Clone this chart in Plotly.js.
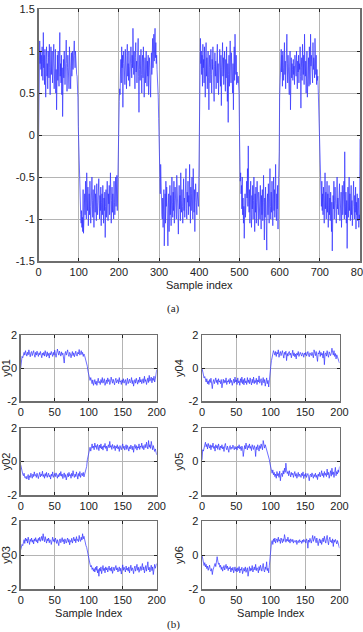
<!DOCTYPE html>
<html>
<head>
<meta charset="utf-8">
<script src="https://cdn.plot.ly/plotly-3.0.1.min.js"></script>
<style>html,body{margin:0;padding:0;background:#fff;}#chart{width:363px;height:632px;}</style>
</head>
<body>
<div id="chart"></div>
<script>
// ---- Panel (a): 801 samples, index 0..800 ----
var signalA = [
-0.10,0.55,0.90,1.12,0.85,1.00,0.78,0.95,0.70,1.05,0.88,0.65,1.22,0.80,0.95,0.60,1.02,0.75,0.45,0.90,
1.05,0.70,0.85,0.55,1.00,0.92,0.68,1.08,0.80,0.48,0.95,1.05,0.72,0.88,1.00,0.62,0.98,0.80,1.08,0.55,
0.85,0.70,1.02,0.50,0.78,0.30,0.85,0.95,0.65,1.00,0.75,0.58,0.90,1.22,0.70,0.85,0.62,0.95,0.48,0.80,
0.22,0.75,0.90,0.68,1.00,0.82,0.60,0.95,0.78,1.13,0.85,0.52,0.80,0.95,0.65,0.88,0.55,1.05,0.72,0.90,
0.55,0.82,0.98,0.70,0.88,1.00,0.78,0.92,0.85,1.12,0.95,0.80,1.00,0.82,0.75,0.72,0.70,0.60,0.45,0.10,
-0.10,-0.45,-0.60,-0.55,-0.68,-0.95,-1.05,-0.90,-1.10,-0.98,-1.15,-0.65,-1.17,-0.85,-1.05,-0.70,-0.95,-0.55,-0.80,-1.00,
-0.45,-0.75,-0.90,-0.62,-1.08,-0.80,-0.70,-0.95,-0.55,-0.85,-1.05,-0.72,-0.88,-0.50,-0.78,-0.98,-0.65,-0.85,-1.10,-0.75,
-0.60,-0.92,-0.70,-0.85,-1.02,-0.58,-0.80,-0.95,-0.68,-0.88,-0.52,-0.78,-1.00,-0.72,-0.90,-0.62,-1.08,-0.80,-0.70,-0.95,
-0.60,-0.85,-1.05,-0.75,-0.90,-0.68,-1.22,-0.85,-0.65,-0.98,-0.75,-0.55,-0.88,-1.02,-0.70,-0.82,-0.60,-0.95,-0.72,-0.45,
-0.85,-1.05,-0.78,-0.62,-0.92,-0.70,-0.88,-1.00,-0.55,-0.80,-0.95,-0.68,-0.50,-0.85,-0.72,-0.48,-0.90,-0.52,-0.40,-0.20,
0.10,0.40,0.55,0.48,0.75,0.90,0.62,1.05,0.80,0.95,0.33,0.85,1.00,0.72,0.90,0.60,1.02,0.78,0.88,0.55,
0.95,1.08,0.70,0.85,0.65,1.00,0.82,0.58,0.92,0.75,1.05,0.85,0.68,0.95,0.80,1.27,0.90,0.72,1.00,0.85,
0.55,0.92,1.10,0.75,0.88,0.62,0.98,0.80,1.15,0.70,0.27,0.78,0.95,0.65,0.85,1.02,0.72,0.50,0.88,0.95,
0.68,1.05,0.80,0.45,0.78,0.92,0.62,0.85,1.00,0.75,0.58,0.88,0.70,0.95,0.48,0.80,0.92,0.65,0.85,0.45,
0.78,0.98,0.72,0.90,1.15,0.80,0.95,1.20,0.88,1.05,1.27,0.92,1.10,0.85,0.95,0.78,0.70,0.60,0.45,0.20,
0.00,-0.32,-0.55,-0.70,-0.35,-0.80,-0.60,-0.95,-1.00,-0.75,-1.10,-0.85,-0.65,-1.32,-0.90,-0.70,-1.05,-0.55,-0.85,-0.62,
-1.00,-0.78,-1.32,-0.88,-0.70,-1.15,-0.82,-0.60,-0.95,-0.72,-1.08,-0.85,-0.50,-0.80,-0.98,-0.68,-0.90,-0.55,-1.05,-0.78,
-0.62,-0.92,-0.75,-1.00,-0.48,-0.82,-0.70,-0.95,-1.18,-0.80,-0.60,-0.88,-0.72,-1.02,-0.45,-0.78,-0.92,-0.65,-0.85,-1.05,
-0.70,-0.52,-0.90,-0.75,-0.98,-0.60,-0.82,-0.40,-0.88,-1.00,-0.68,-0.80,-0.55,-0.95,-0.72,-0.85,-0.35,-0.78,-1.05,-0.62,
-0.90,-0.70,-0.50,-0.85,-1.00,-0.40,-0.75,-0.92,-0.65,-1.15,-0.80,-0.58,-0.88,-0.72,-0.95,-0.68,-0.82,-0.75,-0.85,-0.50,
0.15,0.70,0.65,1.15,0.85,1.00,0.72,0.95,0.58,1.08,0.80,0.90,0.62,1.05,0.75,0.45,0.88,1.10,0.70,0.92,
0.55,0.85,1.00,0.68,0.30,0.80,0.95,0.62,0.88,1.02,0.72,0.50,0.90,0.78,1.05,0.65,0.85,0.40,0.82,0.98,
0.70,0.88,0.55,0.95,0.75,1.08,0.62,0.85,0.48,0.90,0.72,1.02,0.80,0.58,0.95,0.35,0.78,0.88,1.10,0.70,
0.92,0.60,0.85,1.00,0.75,0.52,0.90,0.68,1.05,0.80,0.40,0.85,0.15,0.72,0.95,0.58,0.88,1.12,0.75,0.62,
0.98,0.70,0.90,0.50,0.85,0.30,0.78,1.05,0.65,1.20,0.82,0.72,0.95,0.60,0.75,0.68,0.62,0.70,0.55,0.50,
0.05,-0.30,-0.55,-0.45,-0.70,-0.60,-0.88,-0.50,-0.95,-0.75,-1.05,-0.85,-1.23,-0.90,-0.70,-0.98,-0.60,-0.82,-0.55,-0.75,
-0.40,-0.85,-0.13,-0.70,-0.92,-0.65,-1.05,-0.80,-0.55,-0.95,-1.10,-0.72,-0.88,-0.60,-1.00,-0.78,-0.50,-0.85,-1.15,-0.70,
-0.92,-0.62,-1.05,-0.80,-0.55,-0.98,-0.75,-1.08,-0.68,-0.90,-0.82,-1.00,-0.60,-0.88,-1.12,-0.72,-0.95,-0.65,-1.02,-0.80,
-0.48,-0.90,-1.25,-0.75,-0.98,-0.62,-0.85,-1.10,-1.37,-0.80,-0.70,-0.95,-0.58,-0.88,-1.05,-0.72,-0.40,-0.85,-1.00,-0.68,
-0.92,-0.55,-0.80,-1.08,-0.75,-0.50,-0.90,-0.65,-0.98,-0.78,-0.35,-0.85,-1.02,-0.70,-0.88,-0.60,-1.12,-0.62,-0.45,-0.20,
0.45,0.68,0.60,0.85,1.02,0.75,0.95,0.58,1.00,0.80,0.65,0.92,1.10,0.72,0.88,0.55,1.05,0.78,1.20,0.85,
0.62,0.95,0.70,0.88,0.48,0.82,1.00,0.30,0.75,0.92,0.68,0.85,0.78,0.65,0.90,0.72,0.82,0.60,0.95,0.78,
0.85,0.70,1.00,0.80,0.55,0.88,0.75,0.95,0.62,0.85,0.78,1.05,0.70,0.32,0.80,0.92,0.65,1.08,0.85,0.72,
0.95,0.60,1.20,0.82,0.70,0.88,0.50,0.78,1.00,0.45,0.85,0.68,0.92,0.58,1.05,0.75,0.60,1.20,0.82,0.95,
0.70,0.88,0.62,1.10,0.78,0.92,0.85,0.68,1.15,0.80,0.72,0.95,0.60,0.78,0.65,0.70,0.55,0.40,0.30,0.05,
-0.25,-0.40,-0.28,-0.60,-0.85,-0.55,-0.90,-0.70,-0.95,-0.62,-0.80,-1.05,-0.75,-0.45,-0.88,-0.68,-1.00,-0.78,-0.55,-0.92,
-0.70,-1.10,-0.85,-0.60,-0.95,-0.75,-1.02,-0.68,-0.85,-1.15,-0.80,-1.38,-0.95,-0.72,-0.88,-0.55,-1.00,-0.78,-0.62,-0.92,
-0.70,-1.05,-0.82,-0.50,-0.88,-0.75,-0.95,-0.65,-0.85,-0.58,-1.02,-0.78,-0.90,-0.68,-1.10,-0.82,-0.60,-0.95,-0.72,-0.88,
-0.55,-1.00,-0.20,-0.80,-0.95,-0.68,-1.05,-0.78,-1.35,-0.88,-0.62,-0.98,-0.75,-0.50,-0.90,-0.70,-1.02,-0.85,-0.60,-0.95,
-0.78,-1.08,-0.68,-0.90,-0.55,-0.85,-1.00,-0.72,-0.92,-0.62,-1.12,-0.80,-0.95,-0.70,-1.02,-0.88,-0.75,-1.10,-0.95,-1.00,
-0.05
];
var xTicksA = [0,100,200,300,400,500,600,700,800];
var xTextA = ["0","100","200","300","400","500","600","700","800"];
var yTicksA = [-1.5,-1,-0.5,0,0.5,1,1.5];
var yTextA = ["-1.5","-1","-0.5","0","0.5","1","1.5"];

// ---- Panel (b): six signals, 201 samples, index 0..200 ----
var y01 = [
0.00,0.55,0.70,0.62,0.85,0.95,0.78,1.05,0.88,0.72,0.95,0.80,1.10,0.85,0.68,0.92,1.00,0.75,0.88,1.05,
0.82,0.65,0.95,0.78,1.02,0.88,0.70,0.92,0.80,1.00,0.85,0.62,0.90,0.78,0.95,0.72,1.05,0.82,0.68,0.98,
0.75,0.88,0.60,0.92,0.80,1.00,0.85,0.70,0.95,0.78,1.08,0.82,0.65,0.90,1.15,0.95,0.78,1.02,0.85,0.72,
0.98,0.80,0.90,0.68,0.30,0.85,1.00,0.78,0.92,1.10,0.82,0.70,0.95,0.88,0.62,0.85,1.00,0.75,0.92,0.68,
0.88,1.02,0.80,0.72,0.95,0.85,1.12,0.78,0.90,1.05,0.82,0.95,0.70,0.85,0.75,0.60,0.55,0.35,0.10,-0.20,
-0.45,-0.60,-0.75,-0.58,-0.85,-0.95,-0.72,-1.05,-0.88,-0.70,-0.98,-0.80,-1.05,-0.75,-0.62,-0.90,-0.82,-1.00,-0.70,-0.88,
-0.58,-0.92,-0.78,-0.65,-1.05,-0.85,-0.72,-0.95,-0.60,-0.82,-0.70,-1.00,-0.88,-0.55,-0.78,-0.92,-0.68,-0.85,-1.02,-0.75,
-0.62,-0.90,-0.80,-0.70,-0.95,-0.58,-0.85,-0.78,-1.00,-0.72,-0.88,-0.65,-0.92,-0.80,-0.70,-1.05,-0.85,-0.62,-0.95,-0.78,
-0.68,-0.90,-0.82,-0.58,-0.95,-0.75,-1.10,-0.85,-0.70,-0.92,-0.62,-0.80,-0.98,-0.72,-0.88,-0.55,-0.85,-0.70,-0.95,-0.78,
-0.65,-0.92,-0.50,-0.82,-0.70,-1.00,-0.75,-0.60,-0.88,-0.45,-0.80,-0.68,-0.55,-0.90,-0.62,-0.75,-0.50,-0.85,-0.70,-0.40,
-0.10];
var y02 = [
-0.20,-0.45,-0.60,-0.75,-0.85,-0.70,-0.95,-1.00,-0.88,-1.05,-0.92,-0.78,-1.10,-0.85,-0.95,-0.70,-0.88,-1.00,-0.75,-0.90,
-0.62,-0.85,-0.78,-0.95,-0.70,-0.88,-1.02,-0.80,-0.65,-0.92,-0.75,-0.85,-0.58,-0.90,-0.78,-1.00,-0.72,-0.88,-0.65,-0.95,
-0.80,-0.70,-0.92,-0.82,-1.05,-0.75,-0.88,-0.62,-0.95,-0.80,-0.72,-0.90,-0.68,-0.85,-1.00,-0.78,-0.92,-0.70,-0.85,-0.60,
-0.88,-0.75,-1.02,-0.82,-0.68,-0.95,-0.78,-1.10,-0.85,-0.72,-0.92,-0.65,-0.85,-0.78,-1.00,-0.70,-0.88,-0.55,-0.82,-0.95,
-0.75,-0.90,-0.62,-0.85,-1.05,-0.72,-0.88,-0.60,-0.95,-0.80,-0.70,-0.85,-0.65,-0.92,-0.78,-0.60,-0.50,-0.30,0.10,0.35,
0.55,0.70,0.85,0.62,0.95,1.05,0.80,0.92,0.70,1.10,0.85,0.95,0.72,1.02,0.88,0.65,0.98,0.80,1.05,0.75,
0.90,0.68,0.95,0.85,1.08,0.78,0.92,0.62,0.88,1.00,0.82,1.20,0.85,0.95,0.72,1.02,0.88,0.78,0.95,0.65,
0.92,0.80,1.00,0.75,0.88,0.60,0.95,0.82,0.70,0.90,1.05,0.78,0.92,0.68,0.85,1.00,0.72,0.95,0.80,0.62,
0.88,0.75,0.98,0.82,0.70,0.92,0.55,0.85,1.02,0.78,0.95,0.68,0.88,0.80,1.05,0.72,0.92,0.85,1.10,0.78,
0.95,0.70,0.88,1.02,0.82,1.15,0.90,0.75,1.25,0.85,1.00,0.78,1.20,0.92,0.70,0.95,0.82,0.60,0.75,0.55,
0.40];
var y03 = [
0.30,0.45,0.62,0.55,0.75,0.90,0.68,1.00,0.82,0.95,0.70,1.05,0.85,0.62,0.92,0.80,1.00,0.75,0.88,0.65,
0.95,0.82,1.02,0.78,0.90,0.70,0.98,0.85,1.05,0.80,0.92,1.10,0.85,1.25,0.95,0.78,1.08,0.88,0.70,0.95,
0.82,1.00,0.72,0.90,0.85,0.62,0.95,1.05,0.80,0.92,0.75,1.00,0.85,0.68,0.90,0.78,0.55,0.88,0.95,0.72,
0.85,1.02,0.78,0.90,0.65,0.95,0.82,0.70,0.88,1.00,0.75,0.92,0.60,0.85,0.78,0.98,0.70,0.88,1.05,0.82,
0.95,0.72,1.08,0.85,0.92,0.78,1.15,0.90,0.80,1.05,0.88,1.25,0.95,1.10,0.85,0.70,0.55,0.45,0.20,-0.05,
-0.30,-0.40,-0.55,-0.70,-0.62,-0.85,-0.75,-0.95,-0.80,-1.00,-0.72,-0.90,-0.65,-1.05,-0.85,-1.25,-0.78,-0.95,-0.70,-1.10,
-0.85,-0.62,-0.92,-0.78,-1.05,-0.70,-0.88,-0.75,-1.00,-0.82,-0.65,-0.90,-0.78,-0.95,-0.70,-1.08,-0.85,-0.72,-0.92,-0.80,
-0.62,-0.88,-0.75,-1.00,-0.82,-0.70,-0.95,-0.78,-1.12,-0.85,-0.58,-0.90,-0.72,-0.85,-1.00,-0.65,-0.88,-0.78,-0.95,-0.70,
-1.05,-0.82,-0.60,-0.92,-0.75,-0.88,-1.10,-0.78,-0.65,-0.95,-0.80,-0.55,-0.90,-0.72,-1.02,-0.85,-0.68,-0.92,-0.78,-0.50,
-0.88,-0.70,-1.05,-0.82,-0.62,-0.95,-0.75,-0.40,-0.88,-0.72,-1.00,-0.80,-0.60,-0.92,-0.70,-1.15,-0.82,-0.55,-0.78,-0.65,
-0.50];
var y04 = [
0.00,-0.20,-0.45,-0.60,-0.52,-0.75,-0.85,-0.65,-0.95,-0.78,-1.00,-0.70,-0.88,-0.62,-1.05,-1.25,-0.85,-0.70,-0.95,-0.80,
-0.60,-0.88,-0.72,-1.00,-0.65,-0.85,-0.78,-0.95,-0.70,-1.20,-0.82,-0.68,-0.92,-0.75,-0.88,-0.60,-1.00,-0.78,-0.85,-0.70,
-0.95,-0.62,-0.88,-0.75,-1.05,-0.80,-0.68,-0.92,-0.55,-0.85,-0.72,-1.00,-0.60,-0.90,-0.78,-1.05,-0.65,-0.88,-0.55,-0.95,
-0.70,-1.02,-0.62,-0.90,-0.78,-1.00,-0.58,-0.88,-0.72,-0.95,-0.60,-0.85,-1.02,-0.68,-0.90,-0.55,-0.95,-0.75,-0.88,-0.62,
-1.00,-0.72,-0.85,-0.48,-0.92,-0.78,-0.65,-1.05,-0.80,-0.58,-0.90,-0.70,-1.10,-0.82,-0.60,-0.95,-0.75,-1.15,-0.55,-0.30,
0.10,0.45,0.70,0.85,1.05,0.92,0.78,1.00,0.70,0.95,0.85,1.10,0.65,0.88,1.00,0.75,0.92,1.05,0.80,0.60,
0.95,0.82,1.02,0.45,0.88,0.72,0.95,1.00,0.78,0.90,0.62,0.85,1.08,0.75,0.92,0.68,0.85,0.55,0.90,0.78,
1.00,0.70,0.88,0.95,0.82,0.72,0.92,0.85,0.65,0.90,0.80,0.95,0.72,0.88,1.00,0.78,0.68,0.92,0.85,0.75,
0.95,0.82,0.62,1.10,0.88,0.75,1.00,0.80,0.40,0.92,0.85,1.05,0.70,0.95,0.78,0.88,0.60,1.02,0.20,0.85,
0.92,0.72,1.05,0.80,0.65,0.98,0.85,0.75,0.90,1.20,0.95,0.78,1.05,0.70,0.88,0.55,0.80,0.65,0.50,0.40,
0.30];
var y05 = [
0.10,0.70,0.62,0.85,1.05,1.15,0.88,1.02,0.75,1.08,0.92,0.80,1.00,0.70,0.95,0.85,1.10,0.78,0.90,0.62,
1.00,0.82,0.95,0.72,1.05,0.88,0.68,0.92,0.80,1.00,0.75,0.88,0.60,0.95,1.08,0.82,0.70,0.92,0.78,0.55,
0.88,0.95,0.72,0.85,0.78,0.98,0.82,0.70,0.90,0.75,0.85,0.68,0.92,0.80,1.00,0.75,0.88,0.65,0.92,0.82,
0.30,0.85,0.95,0.75,1.10,0.88,0.70,0.95,0.82,1.05,0.78,0.90,0.65,1.00,0.85,0.72,0.95,0.80,0.30,0.88,
0.70,1.00,0.82,0.62,0.95,0.78,1.05,0.88,0.70,1.25,0.92,0.80,1.00,0.85,0.75,0.70,0.50,0.30,0.10,-0.15,
-0.40,-0.55,-0.70,-0.50,-0.80,-0.65,-0.90,-0.75,-1.00,-0.60,-0.85,-0.72,-0.95,-0.58,-1.15,-0.80,-0.70,-0.90,-0.55,-0.75,
-0.40,-0.65,-0.10,-0.50,-0.72,-0.60,-0.85,-0.55,-0.78,-0.92,-0.65,-0.80,-0.70,-0.95,-0.75,-0.60,-0.88,-0.72,-1.00,-0.80,
-0.65,-0.90,-0.75,-0.82,-0.95,-0.70,-0.85,-0.62,-1.02,-0.78,-0.88,-0.70,-0.95,-0.80,-0.72,-0.90,-1.15,-0.82,-0.75,-0.92,
-0.68,-0.85,-1.00,-0.78,-0.90,-0.70,-0.95,-0.82,-1.08,-0.75,-0.88,-0.65,-0.92,-0.78,-0.55,-0.85,-0.70,-0.95,-0.60,-0.82,
-0.70,-0.90,-0.45,-0.80,-0.65,-1.00,-0.72,-0.55,-0.88,-0.40,-0.78,-0.62,-0.95,-0.70,-0.35,-0.85,-0.60,-0.75,-0.50,-0.65,
-0.30];
var y06 = [
0.00,-0.30,-0.50,-0.62,-0.45,-0.70,-0.55,-0.80,-0.65,-0.90,-0.75,-0.60,-0.85,-0.95,-0.80,-1.15,-0.88,-0.70,-0.62,-0.50,
-0.68,-0.40,-0.10,-0.35,-0.55,-0.48,-0.72,-0.60,-0.85,-0.70,-0.95,-0.78,-0.62,-0.88,-0.70,-0.55,-0.80,-0.65,-0.92,-0.75,
-0.82,-0.68,-1.00,-0.78,-0.90,-0.72,-1.05,-0.85,-0.70,-0.95,-0.80,-1.00,-0.75,-0.92,-0.68,-1.05,-0.82,-0.90,-0.72,-1.10,
-0.85,-0.78,-0.95,-0.70,-1.02,-0.88,-0.75,-1.25,-0.82,-0.68,-0.95,-0.78,-0.90,-0.62,-1.00,-0.82,-0.70,-0.88,-0.55,-0.92,
-0.75,-0.85,-1.05,-0.68,-0.90,-0.60,-0.82,-0.95,-0.72,-0.50,-0.88,-1.00,-0.70,-0.85,-0.40,-0.92,-0.78,-1.05,-0.60,-0.20,
0.50,0.70,0.85,0.62,0.95,0.78,1.00,0.70,0.88,0.95,0.75,1.05,0.82,0.90,0.68,1.00,0.85,0.72,0.95,0.80,
1.20,0.88,0.75,0.92,0.82,1.05,0.78,0.90,0.70,0.95,0.85,0.78,0.92,0.70,0.85,0.80,0.75,0.88,0.62,0.80,
0.85,0.72,0.90,0.78,0.82,0.68,0.88,0.75,0.92,0.80,0.85,0.70,0.95,0.82,0.40,0.88,0.75,0.98,0.85,0.70,
0.92,1.15,0.80,0.95,1.10,0.88,0.72,1.00,0.85,0.55,0.82,0.95,0.70,0.90,0.62,0.85,1.00,0.78,1.10,0.88,
0.70,0.95,1.15,0.82,0.60,0.92,1.05,0.78,0.85,0.70,0.95,0.50,0.88,0.75,0.92,0.80,0.65,0.85,0.70,0.50,
0.40];
var seriesB = [y01, y02, y03, y04, y05, y06];
var namesB = ["y01", "y02", "y03", "y04", "y05", "y06"];
var xTicksB = [0,50,100,150,200];
var xTextB = ["0","50","100","150","200"];
var yTicksB = [-2,0,2];
var yTextB = ["-2","0","2"];
var xTitleA = "Sample index";
var xTitleB = "Sample Index";

// ---------- build ----------
var W = 363, H = 632;
function px(x){ return x / W; }
function py(yTop, yBot){ return [1 - yBot / H, 1 - yTop / H]; }

var tickFont = {family: "Liberation Sans, Arial, sans-serif", size: 11, color: "#222"};
var lineColor = "#3030ff";

function idx(n){ var a = []; for (var i = 0; i < n; i++) a.push(i); return a; }

var traces = [{
  x: idx(signalA.length), y: signalA, type: "scatter", mode: "lines",
  line: {color: lineColor, width: 0.7}, xaxis: "x", yaxis: "y", hoverinfo: "skip"
}];

var axisCommon = {
  showline: true, linecolor: "#6e6e6e", linewidth: 1.5, mirror: "ticks",
  ticks: "inside", ticklen: 3, tickwidth: 1, tickcolor: "#222",
  showgrid: true, gridcolor: "#b4b4b4", gridwidth: 1, zeroline: false,
  tickfont: tickFont, fixedrange: true, automargin: false, ticklabeloverflow: "allow"
};
function ax(extra){ var o = {}; for (var k in axisCommon) o[k] = axisCommon[k]; for (var k2 in extra) o[k2] = extra[k2]; return o; }

var layout = {
  width: W, height: H, margin: {l: 0, r: 0, t: 0, b: 0},
  paper_bgcolor: "#fff", plot_bgcolor: "#fff", showlegend: false,
  xaxis: ax({domain: [px(38.5), px(360)], range: [0, 800], tickmode: "array", tickvals: xTicksA, ticktext: xTextA,
    anchor: "y", title: {text: xTitleA, font: tickFont, standoff: 4}}),
  yaxis: ax({domain: py(9, 261), range: [-1.5, 1.5], tickmode: "array", tickvals: yTicksA, ticktext: yTextA, anchor: "x"}),
  annotations: [
    {text: "(a)", xref: "paper", yref: "paper", x: px(173), y: 1 - 309 / H, showarrow: false,
     font: {family: "Liberation Serif, Times New Roman, serif", size: 11, color: "#222"}, xanchor: "center", yanchor: "middle"},
    {text: "(b)", xref: "paper", yref: "paper", x: px(173), y: 1 - 624 / H, showarrow: false,
     font: {family: "Liberation Serif, Times New Roman, serif", size: 11, color: "#222"}, xanchor: "center", yanchor: "middle"}
  ]
};

var colX = [[20.7, 156.7], [202, 339.5]];
var rowY = [[335, 401], [428, 495], [521, 589]];
for (var s = 0; s < 6; s++) {
  var col = Math.floor(s / 3), row = s % 3;
  var n = s + 2;
  var xa = "xaxis" + n, ya = "yaxis" + n;
  traces.push({x: idx(seriesB[s].length), y: seriesB[s], type: "scatter", mode: "lines",
    line: {color: lineColor, width: 0.7}, xaxis: "x" + n, yaxis: "y" + n, hoverinfo: "skip"});
  var xopt = {domain: [px(colX[col][0]), px(colX[col][1])], range: [0, 200], tickmode: "array",
    tickvals: xTicksB, ticktext: xTextB, anchor: "y" + n};
  if (row === 2) xopt.title = {text: xTitleB, font: tickFont, standoff: 4};
  layout[xa] = ax(xopt);
  layout[ya] = ax({domain: py(rowY[row][0], rowY[row][1]), range: [-2, 2], tickmode: "array",
    tickvals: yTicksB, ticktext: yTextB, anchor: "x" + n,
    title: {text: namesB[s], font: tickFont, standoff: 2}});
}

Plotly.newPlot("chart", traces, layout, {displayModeBar: false, staticPlot: true});
</script>
</body>
</html>
